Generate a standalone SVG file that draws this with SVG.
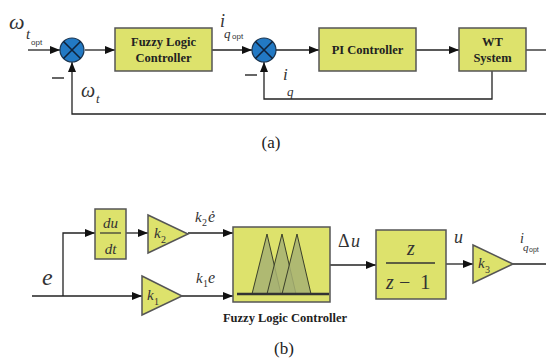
<svg xmlns="http://www.w3.org/2000/svg" width="546" height="358" viewBox="0 0 546 358">
<defs>
<marker id="arr" viewBox="0 0 10 8" refX="10" refY="4" markerWidth="10" markerHeight="8" markerUnits="userSpaceOnUse" orient="auto"><path d="M0,0 L10,4 L0,8 Z" fill="#111"/></marker>
<style>
.box{fill:#dde26c;stroke:#555;stroke-width:1.5}
.ln{fill:none;stroke:#222;stroke-width:1.3}
.sum{fill:#2279c4;stroke:#1b3550;stroke-width:1.2}
.x{stroke:#10223a;stroke-width:1.6}
.bt{font-family:'Liberation Serif','Times New Roman',serif;font-weight:bold;font-size:12.5px;fill:#222;text-anchor:middle}
.m{font-family:'Liberation Serif','Times New Roman','DejaVu Serif',serif;font-style:italic;fill:#333}
.r{font-family:'Liberation Serif','Times New Roman','DejaVu Serif',serif;fill:#333}
.s{font-family:'Liberation Sans',Arial,sans-serif;fill:#333}
.cap{font-family:'Liberation Serif','Times New Roman','DejaVu Serif',serif;font-size:17px;fill:#222;text-anchor:middle}
.tri{fill:#a7b173;fill-opacity:0.85;stroke:#3a3f2a;stroke-width:1}
</style>
</defs>
<g id="connectors">
<path class="ln" d="M28,50 H60" marker-end="url(#arr)"/>
<path class="ln" d="M85,50 H115" marker-end="url(#arr)"/>
<path class="ln" d="M212,50 H252" marker-end="url(#arr)"/>
<path class="ln" d="M276,50 H319" marker-end="url(#arr)"/>
<path class="ln" d="M416,50 H459" marker-end="url(#arr)"/>
<path class="ln" d="M526,50 H546"/>
<path class="ln" d="M492,71 V99 H264 V62" marker-end="url(#arr)"/>
<path class="ln" d="M546,114 H72 V62" marker-end="url(#arr)"/>
<path class="ln" d="M32,296 H142" marker-end="url(#arr)"/>
<path class="ln" d="M63,296 V233 H95" marker-end="url(#arr)"/>
<path class="ln" d="M126,233 H148" marker-end="url(#arr)"/>
<path class="ln" d="M188,233 H233" marker-end="url(#arr)"/>
<path class="ln" d="M182,296 H233" marker-end="url(#arr)"/>
<path class="ln" d="M330,265 H376" marker-end="url(#arr)"/>
<path class="ln" d="M446,264 H473" marker-end="url(#arr)"/>
<path class="ln" d="M513,264 H546"/>
</g>
<g id="sum1">
<circle class="sum" cx="72" cy="50" r="12"/>
<path class="x" d="M63.5,41.5 L80.5,58.5 M80.5,41.5 L63.5,58.5"/>
<line x1="52" y1="78" x2="64" y2="78" stroke="#333" stroke-width="1.5"/>
</g>
<g id="sum2">
<circle class="sum" cx="264" cy="50" r="12"/>
<path class="x" d="M255.5,41.5 L272.5,58.5 M272.5,41.5 L255.5,58.5"/>
<line x1="245" y1="75" x2="257" y2="75" stroke="#333" stroke-width="1.5"/>
</g>
<g id="flc-a">
<rect class="box" x="115" y="28" width="97" height="43"/>
<text class="bt" x="163.5" y="46">Fuzzy Logic</text>
<text class="bt" x="163.5" y="62">Controller</text>
</g>
<g id="pi">
<rect class="box" x="319" y="28" width="97" height="43"/>
<text class="bt" x="367.5" y="54">PI Controller</text>
</g>
<g id="wt">
<rect class="box" x="459" y="28" width="67" height="43"/>
<text class="bt" x="492.5" y="46">WT</text>
<text class="bt" x="492.5" y="62">System</text>
</g>
<g id="labels-a">
<text class="m" x="9" y="29" font-size="22">ω</text>
<text class="m" x="26" y="39" font-size="15">t</text>
<text class="s" x="31" y="45" font-size="8">opt</text>
<text class="m" x="220" y="27" font-size="18">i</text>
<text class="m" x="224" y="38" font-size="13">q</text>
<text class="s" x="232" y="39" font-size="8">opt</text>
<text class="m" x="81" y="97" font-size="20">ω</text>
<text class="m" x="96" y="103" font-size="13">t</text>
<text class="m" x="283" y="80" font-size="17">i</text>
<text class="m" x="287" y="96" font-size="13">q</text>
<text class="cap" x="271" y="148">(a)</text>
</g>
<g id="deriv">
<rect class="box" x="95" y="209" width="31" height="50"/>
<text class="m" x="110.5" y="228" font-size="15" text-anchor="middle">du</text>
<line x1="100" y1="233" x2="121" y2="233" stroke="#333" stroke-width="1.2"/>
<text class="m" x="110.5" y="254" font-size="15" text-anchor="middle">dt</text>
</g>
<g id="k2">
<path class="box" d="M148,215 L188,234 L148,253 Z"/>
<text class="m" x="154" y="238" font-size="15">k</text>
<text class="r" x="161" y="243" font-size="10">2</text>
</g>
<g id="k1">
<path class="box" d="M142,276 L182,296 L142,315 Z"/>
<text class="m" x="147" y="300" font-size="15">k</text>
<text class="r" x="154" y="305" font-size="10">1</text>
</g>
<g id="flc-b">
<rect class="box" x="233" y="227" width="97" height="75"/>
<path class="tri" d="M252,294 L267,234 L281,294 Z"/>
<path class="tri" d="M267,294 L282,234 L296,294 Z"/>
<path class="tri" d="M282,294 L297,234 L311,294 Z"/>
<line x1="237" y1="294" x2="329" y2="294" stroke="#333" stroke-width="2.5"/>
<text class="bt" x="285" y="322">Fuzzy Logic Controller</text>
</g>
<g id="integ">
<rect class="box" x="376" y="230" width="70" height="69"/>
<text class="m" x="411" y="255" font-size="20" text-anchor="middle">z</text>
<line x1="386" y1="263" x2="435" y2="263" stroke="#333" stroke-width="1.3"/>
<text class="m" x="386" y="289" font-size="20">z</text>
<text class="r" x="399" y="289" font-size="20">−</text>
<text class="r" x="420" y="289" font-size="21">1</text>
</g>
<g id="k3">
<path class="box" d="M473,245 L513,264 L473,283 Z"/>
<text class="m" x="478" y="268" font-size="15">k</text>
<text class="r" x="485" y="273" font-size="10">3</text>
</g>
<g id="labels-b">
<text class="m" x="42" y="285" font-size="24">e</text>
<text class="m" x="195" y="222" font-size="15">k</text>
<text class="r" x="202" y="226" font-size="10">2</text>
<text class="m" x="208" y="222" font-size="16">ė</text>
<text class="m" x="196" y="283" font-size="15">k</text>
<text class="r" x="203" y="287" font-size="10">1</text>
<text class="m" x="208" y="283" font-size="16">e</text>
<text class="r" x="338" y="247" font-size="18">Δ</text>
<text class="m" x="351" y="247" font-size="18">u</text>
<text class="m" x="454" y="243" font-size="18">u</text>
<text class="m" x="520" y="243" font-size="14">i</text>
<text class="m" x="523" y="251" font-size="11">q</text>
<text class="s" x="529" y="252" font-size="7">opt</text>
<text class="cap" x="284" y="354">(b)</text>
</g>
</svg>
